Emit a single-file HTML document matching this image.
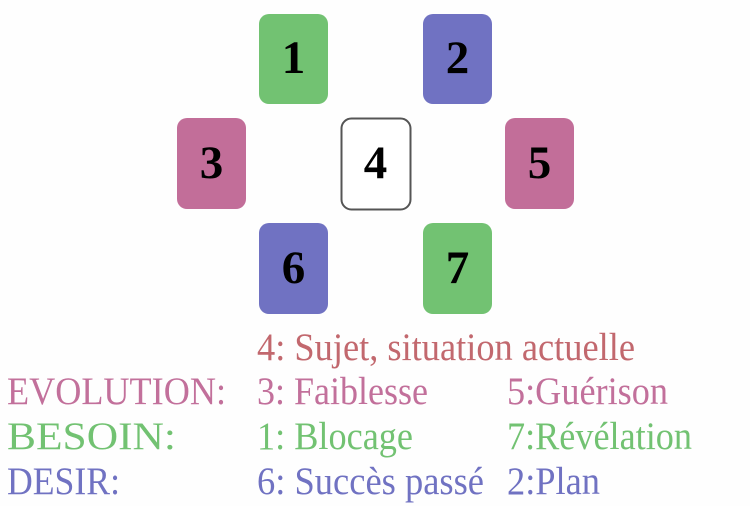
<!DOCTYPE html>
<html><head><meta charset="utf-8"><style>
html,body{margin:0;padding:0;background:#fff;}
svg{display:block;}
text{font-family:"Liberation Serif",serif;}
.n{font-weight:bold;font-size:47px;fill:#000;text-anchor:middle;}
.t{font-size:39px;}
</style></head><body>
<svg width="750" height="506" viewBox="0 0 750 506" xmlns="http://www.w3.org/2000/svg">
<rect width="750" height="506" fill="#fefefe"/>
<rect x="259" y="14" width="69" height="90" rx="10" fill="#72c272"/>
<rect x="423" y="14" width="69" height="90" rx="10" fill="#7072c2"/>
<rect x="177" y="118" width="69" height="91" rx="10" fill="#c26e99"/>
<rect x="341.5" y="118.5" width="69" height="91" rx="10" fill="#fff" stroke="#555" stroke-width="2"/>
<rect x="505" y="118" width="69" height="91" rx="10" fill="#c26e99"/>
<rect x="259" y="223" width="69" height="91" rx="10" fill="#7072c2"/>
<rect x="423" y="223" width="69" height="91" rx="10" fill="#72c272"/>
<text class="n" x="293.5" y="73">1</text>
<text class="n" x="457.5" y="73">2</text>
<text class="n" x="211.5" y="178">3</text>
<text class="n" x="375.5" y="178">4</text>
<text class="n" x="539.5" y="178">5</text>
<text class="n" x="293.5" y="283">6</text>
<text class="n" x="457.5" y="283">7</text>

<text class="t" x="257" y="360" fill="#c2686e" textLength="378" lengthAdjust="spacingAndGlyphs">4: Sujet, situation actuelle</text>
<text class="t" x="7" y="404" fill="#c2709b" textLength="219" lengthAdjust="spacingAndGlyphs">EVOLUTION:</text>
<text class="t" x="257" y="404" fill="#c2709b" textLength="171" lengthAdjust="spacingAndGlyphs">3: Faiblesse</text>
<text class="t" x="507" y="404" fill="#c2709b" textLength="161" lengthAdjust="spacingAndGlyphs">5:Guérison</text>
<text class="t" x="7" y="449" fill="#72c272" textLength="169" lengthAdjust="spacingAndGlyphs">BESOIN:</text>
<text class="t" x="257" y="449" fill="#72c272" textLength="156" lengthAdjust="spacingAndGlyphs">1: Blocage</text>
<text class="t" x="507" y="449" fill="#72c272" textLength="185" lengthAdjust="spacingAndGlyphs">7:Révélation</text>
<text class="t" x="7" y="494" fill="#7072c2" textLength="113" lengthAdjust="spacingAndGlyphs">DESIR:</text>
<text class="t" x="257" y="494" fill="#7072c2" textLength="227" lengthAdjust="spacingAndGlyphs">6: Succès passé</text>
<text class="t" x="507" y="494" fill="#7072c2" textLength="93" lengthAdjust="spacingAndGlyphs">2:Plan</text>
</svg>
</body></html>
